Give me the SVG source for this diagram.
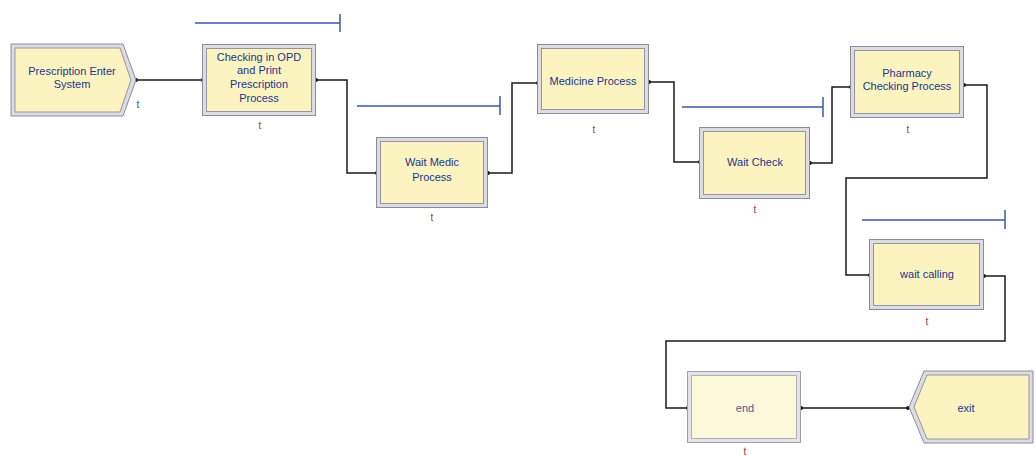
<svg xmlns="http://www.w3.org/2000/svg" width="1036" height="456" viewBox="0 0 1036 456">
<style>
.frame{fill:#dcdce2;stroke:#8c8c98;stroke-width:1}
.inner{fill:#fbf4c0;stroke:#9494a2;stroke-width:1}
.light{fill:#fcf8da}
.lbl{font-family:"Liberation Sans",Arial,sans-serif;font-size:11px;fill:#22358a;text-anchor:middle}
.t{font-family:"Liberation Sans",Arial,sans-serif;font-size:10px;fill:#a04040;text-anchor:middle}
.tb{fill:#2f55b0}
.conn{fill:none;stroke:#1a1a1a;stroke-width:1.5}
.bar{fill:none;stroke:#3a58a8;stroke-width:1.5}
.port{fill:#1a1a1a}
</style>
<rect width="1036" height="456" fill="#ffffff"/>
<g id="connectors">
<path class="conn" d="M135,80 H203"/>
<path class="conn" d="M315,80 H347 V173 H377"/>
<path class="conn" d="M487,173 H512 V83 H538"/>
<path class="conn" d="M648,82 H674 V162 H700"/>
<path class="conn" d="M809,163 H832 V87 H851"/>
<path class="conn" d="M963,85 H987 V178 H846 V275 H870"/>
<path class="conn" d="M983,276 H1005 V341 H666 V408 H688"/>
<path class="conn" d="M800,408 H910"/>
<circle class="port" cx="136" cy="80" r="2"/><circle class="port" cx="203" cy="80" r="2"/>
<circle class="port" cx="316" cy="80" r="2"/><circle class="port" cx="377" cy="173" r="2"/>
<circle class="port" cx="488" cy="173" r="2"/><circle class="port" cx="538" cy="83" r="2"/>
<circle class="port" cx="649" cy="82" r="2"/><circle class="port" cx="700" cy="162" r="2"/>
<circle class="port" cx="810" cy="163" r="2"/><circle class="port" cx="851" cy="87" r="2"/>
<circle class="port" cx="964" cy="85" r="2"/><circle class="port" cx="870" cy="275" r="2"/>
<circle class="port" cx="984" cy="276" r="2"/><circle class="port" cx="688" cy="408" r="2"/>
<circle class="port" cx="801" cy="408" r="2" fill="#888"/><circle class="port" cx="908" cy="408" r="2"/>
</g>
<g id="queues">
<path class="bar" d="M195,23 H340 M340,14 V32"/>
<path class="bar" d="M357,106 H500 M500,96 V115"/>
<path class="bar" d="M682,107 H823 M823,97 V117"/>
<path class="bar" d="M862,220 H1005 M1005,210 V229"/>
</g>
<g id="prescription-enter-system">
<polygon class="frame" points="11,44 123,44 136,80 123,116 11,116"/>
<polygon class="inner" points="15,48 120,48 131,80 120,112 15,112"/>
<text class="lbl" x="72" y="75">Prescription Enter</text>
<text class="lbl" x="72" y="88">System</text>
<text class="t tb" x="138" y="108">t</text>
</g>
<g id="checking-in-opd">
<rect class="frame" x="202.5" y="44.5" width="113" height="71"/>
<rect class="inner" x="206.5" y="48.5" width="105" height="63"/>
<text class="lbl" x="259" y="61">Checking in OPD</text>
<text class="lbl" x="259" y="74">and Print</text>
<text class="lbl" x="259" y="88">Prescription</text>
<text class="lbl" x="259" y="102">Process</text>
<text class="t" x="260" y="129">t</text>
</g>
<g id="wait-medic-process">
<rect class="frame" x="376.5" y="137.5" width="111" height="70"/>
<rect class="inner" x="380.5" y="141.5" width="103" height="62"/>
<text class="lbl" x="432" y="166">Wait Medic</text>
<text class="lbl" x="432" y="181">Process</text>
<text class="t" x="432" y="221">t</text>
</g>
<g id="medicine-process">
<rect class="frame" x="537.5" y="44.5" width="111" height="69"/>
<rect class="inner" x="541.5" y="48.5" width="103" height="61"/>
<text class="lbl" x="593" y="85">Medicine Process</text>
<text class="t" x="594" y="133">t</text>
</g>
<g id="wait-check">
<rect class="frame" x="699.5" y="127.5" width="110" height="71"/>
<rect class="inner" x="703.5" y="131.5" width="102" height="63"/>
<text class="lbl" x="755" y="166">Wait Check</text>
<text class="t" x="755" y="213">t</text>
</g>
<g id="pharmacy-checking-process">
<rect class="frame" x="850.5" y="46.5" width="113" height="71"/>
<rect class="inner" x="854.5" y="50.5" width="105" height="63"/>
<text class="lbl" x="907" y="77">Pharmacy</text>
<text class="lbl" x="907" y="90">Checking Process</text>
<text class="t" x="908" y="133">t</text>
</g>
<g id="wait-calling">
<rect class="frame" x="869.5" y="239.5" width="114" height="70"/>
<rect class="inner" x="873.5" y="243.5" width="106" height="62"/>
<text class="lbl" x="927" y="278">wait calling</text>
<text class="t" x="927" y="325">t</text>
</g>
<g id="end">
<rect class="frame" x="687.5" y="371.5" width="113" height="71" style="fill:#e4e4e8;stroke:#a0a0aa"/>
<rect class="inner light" x="691.5" y="375.5" width="105" height="63" style="stroke:#b0b0ba"/>
<text class="lbl" x="745" y="412" style="fill:#4a5a98">end</text>
<text class="t" x="745" y="455">t</text>
</g>
<g id="exit">
<polygon class="frame" points="924,371 1033,371 1033,443 924,443 909,407"/>
<polygon class="inner" points="927,375 1029,375 1029,439 927,439 914,407"/>
<text class="lbl" x="966" y="412">exit</text>
</g>
</svg>
